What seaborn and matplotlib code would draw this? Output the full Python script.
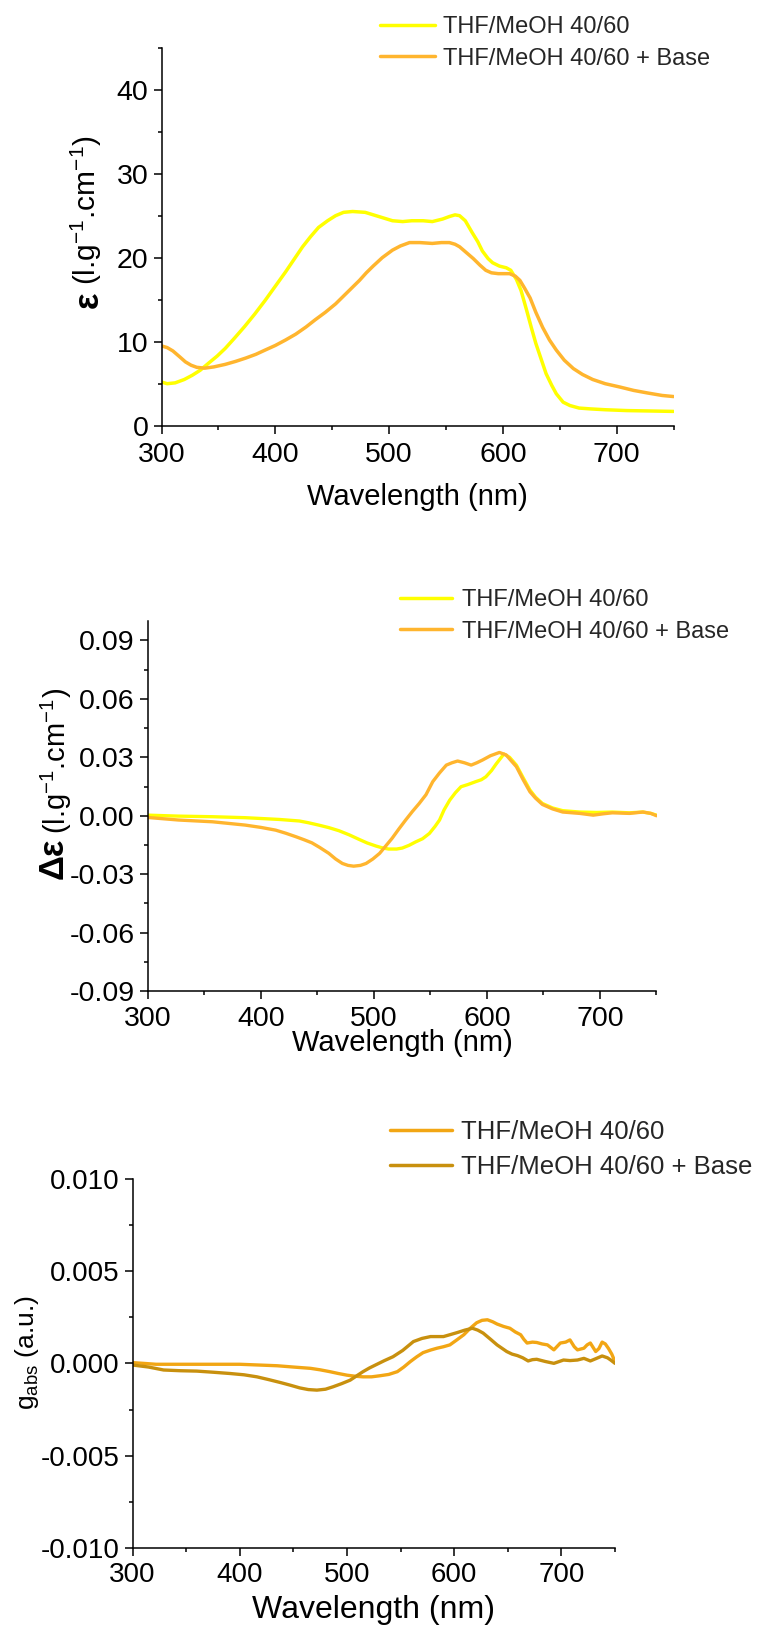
import numpy as np
import pandas as pd
import matplotlib
matplotlib.use("Agg")
import matplotlib.pyplot as plt
from matplotlib.ticker import FixedLocator, FormatStrFormatter
import seaborn as sns

# ---------------- data ----------------
labels_pair = ["THF/MeOH 40/60", "THF/MeOH 40/60 + Base"]

# absorption (epsilon, l.g-1.cm-1)
abs_wl_a = [300, 305, 312, 320, 327, 334, 341, 349, 356, 364, 373, 382, 391, 400, 409, 417, 424,
            431, 438, 446, 453, 460, 468, 479, 491, 503, 512, 520, 530, 538, 547, 553, 558, 562,
            567, 573, 578, 582, 587, 591, 597, 603, 607, 612, 616, 621, 625, 629, 634, 638, 643,
            647, 653, 659, 667, 677, 690, 709, 730, 750]
abs_a = [5.2, 5.0, 5.1, 5.5, 6.0, 6.6, 7.4, 8.3, 9.2, 10.4, 11.8, 13.3, 14.9, 16.6, 18.3, 19.9, 21.3,
         22.5, 23.6, 24.4, 25.0, 25.4, 25.5, 25.4, 24.9, 24.4, 24.3, 24.4, 24.4, 24.3, 24.6, 24.9, 25.1,
         25.0, 24.4, 23.0, 21.9, 20.8, 19.9, 19.4, 19.0, 18.8, 18.5, 17.4, 16.1, 13.7, 11.7, 9.8, 7.8,
         6.2, 4.8, 3.8, 2.8, 2.4, 2.1, 2.0, 1.9, 1.8, 1.75, 1.7]
abs_wl_b = [300, 305, 310, 316, 321, 326, 331, 338, 346, 356, 365, 374, 383, 391, 400, 409, 418,
            427, 435, 444, 453, 462, 468, 474, 480, 486, 494, 503, 510, 518, 527, 538, 546, 553,
            558, 562, 568, 574, 580, 585, 590, 596, 606, 611, 615, 619, 624, 629, 635, 641, 647,
            654, 662, 670, 679, 690, 703, 715, 727, 740, 750]
abs_b = [9.5, 9.3, 8.9, 8.2, 7.6, 7.2, 6.95, 6.85, 7.0, 7.3, 7.65, 8.05, 8.5, 9.0, 9.55, 10.2, 10.9,
         11.75, 12.6, 13.5, 14.5, 15.7, 16.5, 17.3, 18.2, 19.0, 20.0, 20.9, 21.4, 21.8, 21.8, 21.7,
         21.8, 21.8, 21.6, 21.3, 20.6, 19.9, 19.1, 18.5, 18.2, 18.1, 18.1, 17.8, 17.3, 16.4, 15.2,
         13.5, 11.7, 10.2, 9.0, 7.8, 6.8, 6.1, 5.5, 5.0, 4.6, 4.2, 3.9, 3.6, 3.47]

# circular dichroism (delta epsilon)
cd_wl_a = [300, 327, 357, 386, 416, 434, 442, 451, 460, 469, 478, 487, 494, 502, 508, 513, 520,
           525, 531, 537, 543, 549, 554, 558, 562, 567, 572, 577, 583, 590, 595, 599, 604, 608,
           612, 615, 620, 626, 632, 638, 643, 649, 658, 667, 682, 697, 711, 726, 738, 745, 750]
cd_a = [0.0003, -0.0002, -0.0005, -0.0010, -0.0019, -0.0027, -0.0036, -0.0048, -0.0061, -0.0077,
        -0.0098, -0.0122, -0.0140, -0.0156, -0.0166, -0.0171, -0.0171, -0.0166, -0.0152, -0.0134,
        -0.0118, -0.0091, -0.0055, -0.0022, 0.0030, 0.0080, 0.0118, 0.0149, 0.0160, 0.0175, 0.0185,
        0.0200, 0.0232, 0.0265, 0.0295, 0.0317, 0.0300, 0.0260, 0.0195, 0.0132, 0.0095, 0.0063,
        0.0040, 0.0026, 0.0019, 0.0017, 0.0019, 0.0015, 0.0019, 0.0012, 0.0003]
cd_wl_b = [300, 327, 357, 386, 400, 413, 422, 431, 438, 445, 452, 460, 466, 472, 477, 482, 488,
           493, 499, 505, 510, 516, 522, 528, 534, 540, 546, 552, 558, 564, 569, 574, 580, 586,
           591, 596, 603, 611, 617, 621, 626, 632, 638, 643, 649, 658, 667, 682, 694, 703, 711,
           726, 738, 745, 750]
cd_b = [-0.0009, -0.0022, -0.0031, -0.0048, -0.0060, -0.0074, -0.0090, -0.0108, -0.0123, -0.0139,
        -0.0163, -0.0193, -0.0222, -0.0245, -0.0255, -0.0259, -0.0255, -0.0245, -0.0222, -0.0193,
        -0.0158, -0.0116, -0.0068, -0.0022, 0.0022, 0.0063, 0.0108, 0.0175, 0.0220, 0.0260, 0.0272,
        0.0281, 0.0272, 0.0260, 0.0272, 0.0286, 0.0308, 0.0325, 0.0312, 0.0285, 0.0252, 0.0185,
        0.0123, 0.0090, 0.0058, 0.0035, 0.0019, 0.0012, 0.0003, 0.0010, 0.0015, 0.0012, 0.0019,
        0.0012, 0.0]

# dissymmetry factor g_abs
g_wl_a = [300, 310, 322, 360, 400, 435, 450, 466, 475, 484, 492, 500, 508, 515, 523, 531, 539,
          547, 553, 559, 565, 571, 578, 584, 590, 596, 602, 609, 615, 621, 626, 631, 636, 640,
          646, 652, 657, 662, 665, 668, 673, 677, 682, 687, 693, 699, 704, 708, 712, 715, 721,
          724, 727, 732, 735, 738, 741, 744, 747, 750]
g_a = [0.00004, 0.0, -0.00005, -0.00005, -0.00005, -0.00013, -0.00020, -0.00027, -0.00035, -0.00045,
       -0.00055, -0.00064, -0.00070, -0.00073, -0.00073, -0.00067, -0.00060, -0.00045, -0.00020,
       0.00009, 0.00035, 0.00058, 0.00072, 0.00082, 0.00090, 0.00100, 0.00125, 0.00155, 0.00190,
       0.00220, 0.00233, 0.00236, 0.00225, 0.00213, 0.00200, 0.00190, 0.00170, 0.00155, 0.00130,
       0.00110, 0.00115, 0.00113, 0.00105, 0.00100, 0.00073, 0.00110, 0.00115, 0.00127, 0.00090,
       0.00073, 0.00082, 0.00100, 0.00110, 0.00064, 0.00080, 0.00115, 0.00105, 0.00080, 0.00050,
       0.00009]
g_wl_b = [300, 315, 329, 345, 360, 375, 391, 404, 416, 427, 438, 447, 456, 464, 472, 480, 487,
          495, 503, 509, 515, 521, 528, 535, 543, 552, 562, 570, 578, 590, 596, 603, 610, 617,
          622, 627, 634, 640, 645, 649, 654, 659, 664, 669, 673, 677, 685, 693, 698, 702, 708,
          715, 721, 727, 732, 738, 743, 746, 750]
g_b = [-0.00009, -0.00020, -0.00036, -0.00040, -0.00042, -0.00048, -0.00055, -0.00062, -0.00073,
       -0.00088, -0.00104, -0.00118, -0.00133, -0.00142, -0.00145, -0.00140, -0.00127, -0.00110,
       -0.00091, -0.00068, -0.00045, -0.00025, -0.00005, 0.00015, 0.00036, 0.00070, 0.00118,
       0.00135, 0.00145, 0.00145, 0.00155, 0.00167, 0.00180, 0.00190, 0.00180, 0.00164, 0.00130,
       0.00100, 0.00080, 0.00064, 0.00050, 0.00042, 0.00030, 0.00013, 0.00020, 0.00022, 0.00010,
       0.00000, 0.00010, 0.00018, 0.00015, 0.00018, 0.00027, 0.00013, 0.00025, 0.00040, 0.00030,
       0.00018, 0.00000]

colors_top = ["#FFFF00", "#FFB52E"]
colors_bottom = ["#F2A614", "#C8900E"]


def long_frame(wl_a, y_a, wl_b, y_b):
    return pd.concat([
        pd.DataFrame({"wl": wl_a, "y": y_a, "sample": labels_pair[0]}),
        pd.DataFrame({"wl": wl_b, "y": y_b, "sample": labels_pair[1]}),
    ], ignore_index=True)


# ---------------- style ----------------
sns.set_theme(style="ticks")
plt.rcParams["font.family"] = ["Liberation Sans", "DejaVu Sans"]
plt.rcParams["mathtext.fontset"] = "custom"
plt.rcParams["mathtext.rm"] = "Liberation Sans"
plt.rcParams["mathtext.it"] = "Liberation Sans"
plt.rcParams["mathtext.bf"] = "Liberation Sans:bold"

W, H = 782, 1628
fig = plt.figure(figsize=(W / 100, H / 100), dpi=100)


def px_axes(left, right, top, bottom):
    return fig.add_axes([left / W, 1 - bottom / H, (right - left) / W, (bottom - top) / H])


def style_axes(ax, yticks, yminor, fmt, tick_fs, xpad):
    ax.set_xlim(300, 750)
    ax.xaxis.set_major_locator(FixedLocator([300, 400, 500, 600, 700]))
    ax.xaxis.set_minor_locator(FixedLocator([350, 450, 550, 650, 750]))
    ax.yaxis.set_major_locator(FixedLocator(yticks))
    ax.yaxis.set_minor_locator(FixedLocator(yminor))
    ax.yaxis.set_major_formatter(FormatStrFormatter(fmt))
    for s in ["top", "right"]:
        ax.spines[s].set_visible(False)
    for s in ["left", "bottom"]:
        ax.spines[s].set_linewidth(1.1)
        ax.spines[s].set_color("black")
    ax.tick_params(which="major", direction="out", length=5.8, width=1.1, color="black",
                   labelsize=tick_fs, labelcolor="black")
    ax.tick_params(which="minor", direction="out", length=3.2, width=1.1, color="black")
    ax.tick_params(axis="x", which="major", pad=xpad)
    ax.tick_params(axis="y", which="major", pad=3.6)
    ax.set_facecolor("white")
    ax.grid(False)


def draw_panel(ax, df, colors, lw):
    sns.lineplot(data=df, x="wl", y="y", hue="sample", palette=dict(zip(labels_pair, colors)),
                 linewidth=lw, ax=ax, legend=False, sort=False, estimator=None)
    for ln in ax.get_lines():
        ln.set_solid_joinstyle("round")
        ln.set_solid_capstyle("round")


def add_legend(ax, colors, lw, fs, x_px, y_px, hl, tp, ls):
    handles = [plt.Line2D([], [], color=c, lw=lw) for c in colors]
    ax.legend(handles, labels_pair, loc="center left", bbox_to_anchor=(x_px / W, 1 - y_px / H),
              bbox_transform=fig.transFigure, frameon=False, fontsize=fs, handlelength=hl,
              handletextpad=tp, labelspacing=ls, borderpad=0, borderaxespad=0)


def place_xlabel(ax, text, fs, y_center_px, top_px, bottom_px):
    ax.set_xlabel(text, fontsize=fs, color="black")
    ax.xaxis.label.set_va("center")
    ax.xaxis.set_label_coords(0.5, -(y_center_px - bottom_px) / (bottom_px - top_px))


def place_ylabel(ax, text, fs, x_center_px, y_center_px):
    ax.set_ylabel(text, fontsize=fs, color="black")
    ax.yaxis.label.set_va("center")
    ax.yaxis.label.set_ha("center")
    ax.yaxis.set_label_coords(x_center_px / W, 1 - y_center_px / H, transform=fig.transFigure)


def symbol_text(text, fs, x_center_px, y_center_px):
    fig.text(x_center_px / W, 1 - y_center_px / H, text, fontsize=fs, fontweight="bold",
             rotation=90, ha="center", va="center", rotation_mode="anchor", color="black")


# ---------------- panel 1: absorption ----------------
ax1 = px_axes(161.5, 673.5, 47.7, 425.7)
draw_panel(ax1, long_frame(abs_wl_a, abs_a, abs_wl_b, abs_b), colors_top, 2.5)
ax1.set_ylim(0, 45)
style_axes(ax1, [0, 10, 20, 30, 40], [5, 15, 25, 35, 45], "%d", 20.5, 5.6)
add_legend(ax1, colors_top, 2.5, 17, 380, 43, 2.33, 0.34, 0.39)
place_xlabel(ax1, "Wavelength (nm)", 21, 497, 47.7, 425.7)
place_ylabel(ax1, "(l.g$^{-1}$.cm$^{-1}$)", 21.5, 86, 210)
symbol_text("ε", 25, 88, 299.5)

# ---------------- panel 2: circular dichroism ----------------
ax2 = px_axes(148, 656.5, 621, 991)
draw_panel(ax2, long_frame(cd_wl_a, cd_a, cd_wl_b, cd_b), colors_top, 2.4)
ax2.set_ylim(-0.09, 0.1)
style_axes(ax2, [-0.09, -0.06, -0.03, 0.0, 0.03, 0.06, 0.09],
           [-0.075, -0.045, -0.015, 0.015, 0.045, 0.075], "%.2f", 20.5, 5.0)
add_legend(ax2, colors_top, 2.5, 17, 400, 616, 2.2, 0.42, 0.39)
place_xlabel(ax2, "Wavelength (nm)", 21, 1043, 621, 991)
place_ylabel(ax2, "(l.g$^{-1}$.cm$^{-1}$)", 21, 56, 761)
symbol_text("Δε", 25, 53, 858)

# ---------------- panel 3: dissymmetry factor ----------------
ax3 = px_axes(132.5, 615, 1178.7, 1548)
draw_panel(ax3, long_frame(g_wl_a, g_a, g_wl_b, g_b), colors_bottom, 2.4)
ax3.set_ylim(-0.01, 0.01)
style_axes(ax3, [-0.01, -0.005, 0.0, 0.005, 0.01], [-0.0075, -0.0025, 0.0025, 0.0075],
           "%.3f", 20, 4.0)
add_legend(ax3, colors_bottom, 2.5, 18.5, 390, 1149.5, 2.41, 0.35, 0.44)
place_xlabel(ax3, "Wavelength (nm)", 23, 1610, 1178.7, 1548)
place_ylabel(ax3, r"g$_{\mathrm{abs}}$ (a.u.)", 19, 27, 1353)

fig.savefig("out.png", dpi=100, facecolor="white")
